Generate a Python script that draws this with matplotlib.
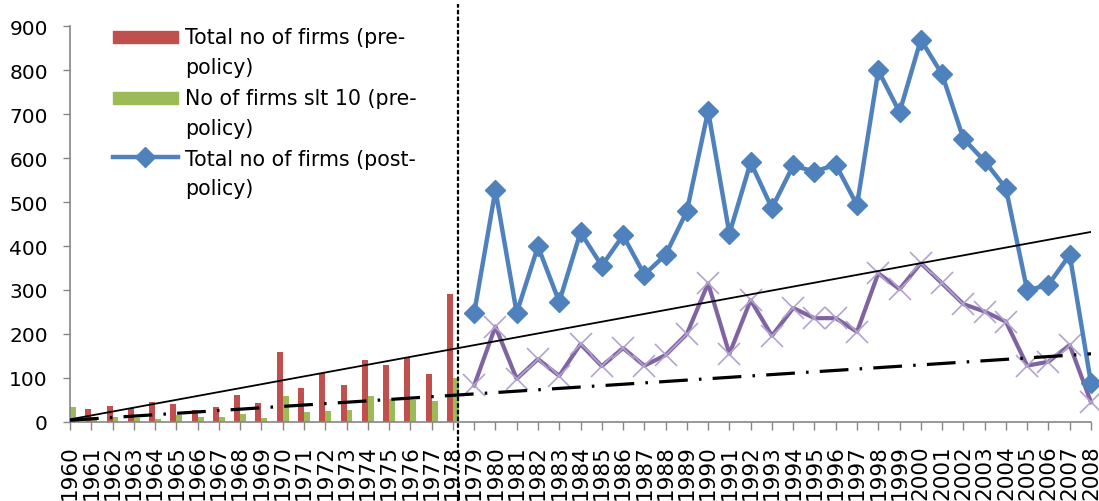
import numpy as np
import matplotlib
matplotlib.use("Agg")
import matplotlib.pyplot as plt
import matplotlib.patches as mpatches
from matplotlib.lines import Line2D
from matplotlib.legend_handler import HandlerPatch
from matplotlib.offsetbox import HPacker

# Years on the category axis
years = list(range(1960, 2009))
pre_years = list(range(1960, 1979))
post_years = list(range(1979, 2009))

# Pre-policy bars
total_pre = [25, 30, 36, 32, 45, 42, 28, 33, 61, 44, 159, 77, 112, 83, 140, 129, 148, 110, 291]
slt10_pre = [33, 11, 11, 8, 6, 15, 11, 11, 19, 8, 58, 23, 25, 28, 58, 52, 49, 47, 101]

# Post-policy lines
total_post = [247, 527, 248, 399, 273, 431, 355, 424, 335, 380, 479, 707, 428, 590, 486,
              583, 569, 585, 493, 799, 704, 869, 790, 644, 593, 531, 299, 312, 380, 88]
slt10_post = [83, 217, 98, 143, 105, 177, 127, 168, 128, 152, 200, 315, 155, 277, 196,
              259, 236, 236, 205, 338, 302, 361, 315, 268, 251, 228, 128, 137, 175, 45]

# Trend lines (end points)
trend_x = [1960, 2008]
trend_total = [6, 432]
trend_slt10 = [4, 155]
policy_year = 1978.22

legend_labels = ["Total no of firms (pre-\npolicy)",
                 "No of firms slt 10 (pre-\npolicy)",
                 "Total no of firms (post-\npolicy)"]

RED, GREEN, BLUE, PURPLE = "#C0504D", "#9BBB59", "#4F81BD", "#8064A2"

fig = plt.figure(figsize=(10.99, 5.02), dpi=100)
ax = fig.add_axes([70 / 1099, 1 - 423 / 502, 1021 / 1099, 396 / 502])

w = 0.28
x_pre = np.array(pre_years)
ax.bar(x_pre - w / 2, total_pre, width=w, color=RED, zorder=2)
ax.bar(x_pre + w / 2, slt10_pre, width=w, color=GREEN, zorder=2)

ax.plot(post_years, total_post, color=BLUE, lw=3.2, marker="D", ms=10,
        clip_on=False, zorder=4)
ax.plot(post_years, slt10_post, color=PURPLE, lw=3.0, marker="x", ms=16,
        mec="#B3A3CF", mew=1.2, clip_on=False, zorder=3)

ax.plot(trend_x, trend_total, color="black", lw=1.3, zorder=5)
ax.plot(trend_x, trend_slt10, color="black", lw=2.3, dash_capstyle="butt",
        linestyle=(0, (9, 3.5, 0.8, 3.5)), zorder=5)

ax.axvline(policy_year, ymin=-0.2, ymax=1.056, color="black", lw=1.6,
           linestyle=(0, (2, 1)), clip_on=False, zorder=6)

ax.set_xlim(1960, 2008)
ax.set_ylim(0, 900)
ax.set_yticks(range(0, 901, 100))
ax.set_xticks(years)
ax.set_xticklabels([str(y) for y in years], rotation=90, fontsize=15.5)
ax.tick_params(axis="y", labelsize=14.5, length=5, width=1, color="#868686", pad=11)
ax.tick_params(axis="x", length=6, width=1, color="#868686", pad=10)

for s in ["top", "right"]:
    ax.spines[s].set_visible(False)
for s in ["left", "bottom"]:
    ax.spines[s].set_color("#868686")
    ax.spines[s].set_linewidth(1.2)


# legend: handles sit next to the first line of each two-line label
def small_patch(legend, orig_handle, xdescent, ydescent, width, height, fontsize):
    h = 0.6 * fontsize
    return mpatches.Rectangle((-xdescent, -ydescent + (height - h) / 2), width, h)


handles = [mpatches.Patch(color=RED), mpatches.Patch(color=GREEN),
           Line2D([], [], color=BLUE, lw=3.2, marker="D", ms=10)]
leg = ax.legend(handles, legend_labels, loc="upper left",
                bbox_to_anchor=(113 / 1099, 1 - 28 / 502), bbox_transform=fig.transFigure,
                frameon=False, fontsize=14.8, borderpad=0, borderaxespad=0,
                handlelength=3.15, handleheight=1.1, handletextpad=0.35, labelspacing=0.55,
                handler_map={mpatches.Patch: HandlerPatch(patch_func=small_patch)})
for t in leg.get_texts():
    t.set_linespacing(1.6)
for hp in leg.findobj(HPacker):
    hp.align = "top"

fig.savefig("out.png", dpi=100)
